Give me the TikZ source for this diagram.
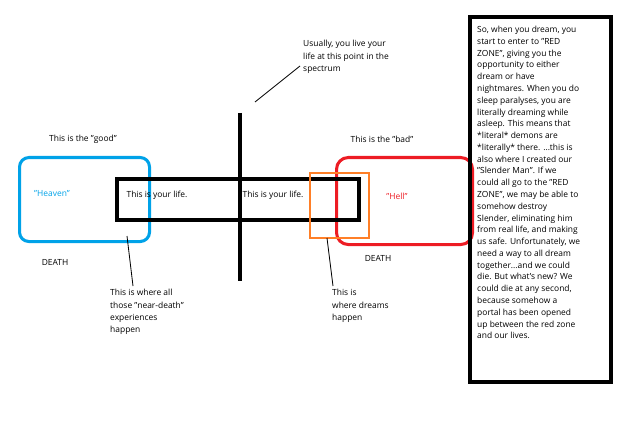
\documentclass[tikz,border=0pt]{standalone}
\usepackage{fontspec}
\setmainfont{Open Sans}
\def\dq{\symbol{34}}
\begin{document}
\begin{tikzpicture}[x=0.03cm,y=-0.03cm,
  txt/.style={font=\fontsize{7.2}{10.6}\selectfont,align=left,inner sep=0pt},
  ln/.style={line width=0.7pt}]
\useasboundingbox (0,0) rectangle (640,426);
\definecolor{hblue}{RGB}{0,162,232}
\definecolor{horange}{RGB}{255,127,39}
\definecolor{hred}{RGB}{237,28,36}
\node[draw=hblue,line width=2.6pt,rounded corners=8pt,minimum width=130*0.03cm,minimum height=84*0.03cm,anchor=north west] (heaven) at (18,156) {};
\node[draw=hred,line width=2.6pt,rounded corners=10pt,minimum width=136*0.03cm,minimum height=87*0.03cm,anchor=north west] (hell) at (335,156) {};
\node[draw,line width=3pt,minimum width=242*0.03cm,minimum height=41*0.03cm,anchor=north west] (life) at (115,177) {};
\node[draw=horange,line width=1.6pt,minimum width=59*0.03cm,minimum height=65*0.03cm,anchor=north west] (dream) at (309,172) {};
\coordinate (top) at (240,113); \coordinate (bot) at (240,281);
\draw[line width=3.2pt] (top) -- (bot);
\node[draw,line width=3pt,minimum width=141*0.03cm,minimum height=365*0.03cm,anchor=north west] (side) at (468,15) {};
\node[txt,font=\fontsize{7.2}{10.05}\selectfont,anchor=north west] (sidetxt) at (477,26) {So, when you dream, you\\start to enter to \dq RED\\ZONE\dq, giving you the\\opportunity to either\\dream or have\\nightmares. When you do\\sleep paralyses, you are\\literally dreaming while\\asleep. This means that\\*literal* demons are\\*literally* there. ...this is\\also where I created our\\\dq Slender Man\dq. If we\\could all go to the \dq RED\\ZONE\dq, we may be able to\\somehow destroy\\Slender, eliminating him\\from real life, and making\\us safe. Unfortunately, we\\need a way to all dream\\together...and we could\\die. But what's new? We\\could die at any second,\\because somehow a\\portal has been opened\\up between the red zone\\and our lives.};
\node[txt] (good) at (83,139) {This is the \dq good\dq};
\node[txt] (bad) at (382,139) {This is the \dq bad\dq};
\node[txt,text=hblue] (hv) at (52,194) {\dq Heaven\dq};
\node[txt,text=hred] (hl) at (397,196) {\dq Hell\dq};
\node[txt] (l1) at (157,195) {This is your life.};
\node[txt] (l2) at (273,195) {This is your life.};
\node[txt] (d1) at (55,262) {DEATH};
\node[txt] (d2) at (378,258) {DEATH};
\node[txt,anchor=north west] (usual) at (303,40) {Usually, you live your\\life at this point in the\\spectrum};
\coordinate (u1) at (300,66); \coordinate (u2) at (255,102);
\draw[ln] (u1) -- (u2);
\coordinate (n1) at (127,236); \coordinate (n2) at (133,286);
\draw[ln] (n1) -- (n2);
\node[txt,anchor=north west] (near) at (110,289) {This is where all\\those \dq near-death\dq\\experiences\\happen};
\coordinate (m1) at (327,238); \coordinate (m2) at (333,286);
\draw[ln] (m1) -- (m2);
\node[txt,anchor=north west] (where) at (332,289) {This is\\where dreams\\happen};
\end{tikzpicture}
\end{document}
